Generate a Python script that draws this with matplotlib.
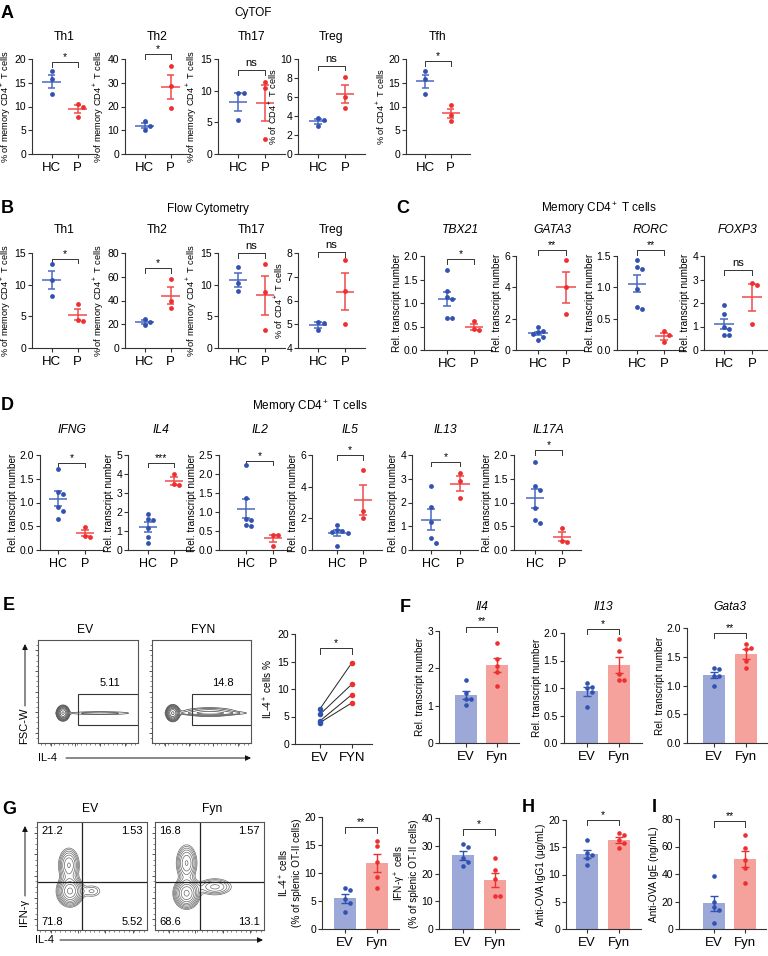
import numpy as np
import matplotlib
matplotlib.use('Agg')
import matplotlib.pyplot as plt
from matplotlib.patches import Rectangle

plt.rcParams['font.family'] = ['Liberation Sans', 'DejaVu Sans']
plt.rcParams['mathtext.fontset'] = 'custom'
plt.rcParams['mathtext.rm'] = 'Liberation Sans'
plt.rcParams['mathtext.it'] = 'Liberation Sans:italic'

# ---------------- DATA ----------------
hp_labels = ['HC', 'P']
ef_labels = ['EV', 'Fyn']

# A: CyTOF
a_titles = ['Th1', 'Th2', 'Th17', 'Treg', 'Tfh']
a_hc = [[17.4, 15.7, 12.6], [13.7, 11.8, 10.1], [9.7, 9.6, 5.3], [3.8, 3.6, 2.9], [17.4, 15.8, 12.6]]
a_p = [[10.6, 10.0, 7.8], [37.0, 28.5, 19.3], [11.3, 10.4, 2.4], [8.1, 6.0, 4.8], [10.4, 8.3, 6.9]]
a_sig = ['*', '*', 'ns', 'ns', '*']
a_yticks = [[0, 5, 10, 15, 20], [0, 10, 20, 30, 40], [0, 5, 10, 15], [0, 2, 4, 6, 8, 10], [0, 5, 10, 15, 20]]
a_ylab = ['% of memory CD4$^+$ T cells'] * 3 + ['% of CD4$^+$ T cells'] * 2

# B: Flow cytometry
b_titles = ['Th1', 'Th2', 'Th17', 'Treg']
b_hc = [[13.2, 10.8, 8.2], [24.5, 21.5, 19.0], [12.8, 10.3, 9.0], [5.08, 5.07, 4.75]]
b_p = [[7.0, 4.4, 4.3], [58.0, 40.0, 34.0], [13.3, 8.9, 2.8], [7.69, 6.4, 5.02]]
b_sig = ['*', '*', 'ns', 'ns']
b_yticks = [[0, 5, 10, 15], [0, 20, 40, 60, 80], [0, 5, 10, 15], [4, 5, 6, 7, 8]]
b_ylab = ['% of memory CD4$^+$ T cells'] * 3 + ['% of CD4$^+$ T cells']

# C: memory CD4 transcripts
c_titles = ['TBX21', 'GATA3', 'RORC', 'FOXP3']
c_hc = [[1.70, 1.25, 1.12, 1.08, 0.68, 0.68], [1.50, 1.20, 1.15, 1.00, 0.85, 0.65],
        [1.43, 1.32, 1.29, 0.97, 0.68, 0.66], [1.93, 1.55, 1.00, 0.90, 0.65, 0.62]]
c_p = [[0.62, 0.44, 0.43], [5.72, 4.03, 2.29], [0.30, 0.24, 0.12], [2.85, 2.78, 1.10]]
c_sig = ['*', '**', '**', 'ns']
c_yticks = [[0, 0.5, 1.0, 1.5, 2.0], [0, 2, 4, 6], [0, 0.5, 1.0, 1.5], [0, 1, 2, 3, 4]]
c_tickfmt = ['{:.1f}', '{:d}', '{:.1f}', '{:d}']

# D: cytokine transcripts
d_titles = ['IFNG', 'IL4', 'IL2', 'IL5', 'IL13', 'IL17A']
d_hc = [[1.70, 1.22, 1.18, 0.90, 0.82, 0.66], [1.88, 1.61, 1.57, 1.16, 0.68, 0.36],
        [2.25, 1.37, 0.82, 0.80, 0.65, 0.64], [1.60, 1.28, 1.20, 1.14, 1.08, 0.25],
        [2.68, 1.79, 1.16, 0.49, 0.29], [1.85, 1.35, 1.27, 0.89, 0.63, 0.57]]
d_p = [[0.48, 0.30, 0.27], [4.02, 3.45, 3.43], [0.40, 0.40, 0.11], [5.07, 2.44, 2.00],
       [3.26, 2.92, 2.19], [0.47, 0.19, 0.17]]
d_sig = ['*', '***', '*', '*', '*', '*']
d_yticks = [[0, 0.5, 1.0, 1.5, 2.0], [0, 1, 2, 3, 4, 5], [0, 0.5, 1.0, 1.5, 2.0, 2.5],
            [0, 2, 4, 6], [0, 1, 2, 3, 4], [0, 0.5, 1.0, 1.5, 2.0]]
d_tickfmt = ['{:.1f}', '{:d}', '{:.1f}', '{:d}', '{:d}', '{:.1f}']

# E: paired IL-4+ %
e_labels = ['EV', 'FYN']
e_ev = [6.4, 5.4, 4.2, 3.9]
e_fyn = [14.8, 10.9, 9.0, 7.5]
e_gates = ['5.11', '14.8']

# F: transcripts EV vs Fyn
f_titles = ['Il4', 'Il13', 'Gata3']
f_ev = [[1.69, 1.35, 1.18, 1.17, 1.03], [1.10, 1.02, 1.00, 0.92, 0.65], [1.30, 1.29, 1.16, 1.16, 1.00]]
f_fyn = [[2.68, 2.25, 2.05, 1.90, 1.53], [1.89, 1.67, 1.25, 1.15, 1.14], [1.73, 1.65, 1.63, 1.42, 1.31]]
f_sig = ['**', '*', '**']
f_yticks = [[0, 1, 2, 3], [0, 0.5, 1.0, 1.5, 2.0], [0, 0.5, 1.0, 1.5, 2.0]]
f_tickfmt = ['{:d}', '{:.1f}', '{:.1f}']

# G: flow quadrants and bars
g_quad_ev = ['21.2', '1.53', '71.8', '5.52']
g_quad_fyn = ['16.8', '1.57', '68.6', '13.1']
g_il4_ev = [7.4, 7.0, 5.3, 4.6, 3.1]
g_il4_fyn = [15.7, 14.8, 11.9, 9.3, 7.3]
g_ifng_ev = [30.8, 29.5, 25.5, 24.0, 22.8]
g_ifng_fyn = [25.6, 21.1, 18.0, 11.8, 11.8]
# H, I: serum antibodies
h_ev = [16.3, 14.0, 13.6, 13.0, 11.8]
h_fyn = [17.7, 17.3, 16.3, 15.8, 14.8]
i_ev = [38.9, 20.0, 16.0, 14.0, 4.3]
i_fyn = [68.4, 58.7, 50.2, 44.2, 33.8]

# flow density components (amp, x, y, sx, sy) in plot-fraction units
e_dens_ev = [(1.0, 0.25, 0.29, 0.026, 0.03), (0.07, 0.62, 0.29, 0.22, 0.011)]
e_dens_fyn = [(1.0, 0.21, 0.29, 0.028, 0.032), (0.12, 0.58, 0.30, 0.16, 0.026), (0.06, 0.62, 0.29, 0.24, 0.01)]
g_dens_ev = [(1.0, 0.30, 0.36, 0.055, 0.065), (0.5, 0.29, 0.60, 0.048, 0.08), (0.14, 0.50, 0.36, 0.06, 0.04)]
g_dens_fyn = [(1.0, 0.29, 0.34, 0.055, 0.065), (0.5, 0.29, 0.62, 0.048, 0.085), (0.28, 0.55, 0.40, 0.09, 0.045)]

# ---------------- STYLE ----------------
BLUE, RED = '#3152b0', '#ee2f2f'
BLUE_L, RED_L = '#4a68c0', '#f04a4a'
BLUE_BAR, RED_BAR = '#9ca8d8', '#f5a19c'
AX_C = '#333333'

W, H = 768, 956
fig = plt.figure(figsize=(W / 100, H / 100), dpi=100)


def add_ax(l, t, r, b):
    return fig.add_axes([l / W, 1 - b / H, (r - l) / W, (b - t) / H])


def swarm(vals, ppu_y, dot=4.8):
    vals = np.asarray(vals, float)
    order = np.argsort(-vals)
    placed = []
    offs = np.zeros(len(vals))
    for i in order:
        y = vals[i] * ppu_y
        for c in [0, 1, -1, 2, -2, 3, -3]:
            x = c * (dot + 0.6)
            if all((x - px) ** 2 + (y - py) ** 2 >= dot ** 2 for px, py in placed):
                break
        placed.append((x, y))
        offs[i] = x
    return offs


def base_style(ax, ymin, ymax, yticks, fmt, xlabels, ylabel, xsize=9.5, ysize=7.5, lsize=6.9, lpad=1.5):
    for s in ['top', 'right']:
        ax.spines[s].set_visible(False)
    for s in ['left', 'bottom']:
        ax.spines[s].set_color(AX_C)
        ax.spines[s].set_linewidth(0.8)
    ax.set_ylim(ymin, ymax)
    ax.set_yticks(yticks)
    ax.set_yticklabels([fmt.format(int(v) if fmt == '{:d}' else v) for v in yticks], fontsize=ysize)
    ax.set_xticks([0, 1])
    ax.set_xticklabels(xlabels, fontsize=xsize)
    ax.tick_params(axis='both', length=3, width=0.8, color=AX_C, pad=1.2)
    ax.tick_params(axis='x', pad=2.5)
    ax.set_ylabel(ylabel, fontsize=lsize, labelpad=lpad)
    ax.patch.set_alpha(0)


def bracket(ax, frac, text, drop=0.05):
    tr = ax.get_xaxis_transform()
    ax.plot([0, 0, 1, 1], [frac - drop, frac, frac, frac - drop], transform=tr,
            color=AX_C, lw=0.7, clip_on=False)
    ax.text(0.5, frac + (0.02 if text == 'ns' else 0.0), text, transform=tr, ha='center',
            va='bottom', fontsize=8 if text == 'ns' else 7.5, clip_on=False)


def scatter_panel(rect, hx, px, hc, pp, yticks, fmt, ylabel, sig, bfrac, ymin=0,
                  xsize=9.5, lsize=6.9, lpad=1.5):
    l, t, r, b = rect
    ax = add_ax(l, t, r, b)
    sp = px - hx
    ax.set_xlim((l - hx) / sp, (r - hx) / sp)
    ymax = yticks[-1]
    ppu = (b - t) / (ymax - ymin)
    for k, (vals, dc, lc) in enumerate([(hc, BLUE, BLUE_L), (pp, RED, RED_L)]):
        v = np.asarray(vals, float)
        m = v.mean()
        se = v.std(ddof=1) / np.sqrt(len(v))
        offs = swarm(v, ppu) / sp
        ax.hlines(m, k - 0.35, k + 0.35, color=lc, lw=1.1, zorder=2)
        ax.vlines(k, m - se, m + se, color=lc, lw=1.1, zorder=2)
        ax.hlines([m - se, m + se], k - 0.14, k + 0.14, color=lc, lw=1.1, zorder=2)
        ax.scatter(k + offs, v, s=12, color=dc, zorder=3, linewidths=0, clip_on=False)
    base_style(ax, ymin, ymax, yticks, fmt, hp_labels, ylabel, xsize=xsize, lsize=lsize, lpad=lpad)
    bracket(ax, bfrac, sig)
    return ax


def bar_panel(rect, ex, fx, ev, fy, yticks, fmt, ylabel, sig, bfrac, lsize=7):
    l, t, r, b = rect
    ax = add_ax(l, t, r, b)
    sp = fx - ex
    ax.set_xlim((l - ex) / sp, (r - ex) / sp)
    ymax = yticks[-1]
    ppu = (b - t) / ymax
    for k, (vals, dc, bc) in enumerate([(ev, BLUE, BLUE_BAR), (fy, RED, RED_BAR)]):
        v = np.asarray(vals, float)
        m = v.mean()
        se = v.std(ddof=1) / np.sqrt(len(v))
        ax.bar(k, m, width=0.7, color=bc, zorder=1)
        ax.vlines(k, m - se, m + se, color=dc, lw=1.0, zorder=2)
        ax.hlines([m - se, m + se], k - 0.13, k + 0.13, color=dc, lw=1.0, zorder=2)
        offs = swarm(v, ppu) / sp
        ax.scatter(k + offs, v, s=11, color=dc, zorder=3, linewidths=0, clip_on=False)
    base_style(ax, 0, ymax, yticks, fmt, ef_labels, ylabel, xsize=9.5, lsize=lsize)
    bracket(ax, bfrac, sig)
    return ax


gx = np.linspace(0, 1, 300)
GX, GY = np.meshgrid(gx, gx)


def flow_panel(rect, comps, lo, nlev, color):
    ax = add_ax(*rect)
    Z = np.zeros_like(GX)
    for a, mx, my, sx, sy in comps:
        Z += a * np.exp(-0.5 * (((GX - mx) / sx) ** 2 + ((GY - my) / sy) ** 2))
    ax.contour(GX, GY, Z, levels=np.geomspace(lo, 0.92, nlev), colors=color, linewidths=0.5)
    ax.set_xlim(0, 1)
    ax.set_ylim(0, 1)
    for s in ax.spines.values():
        s.set_color('#555555')
        s.set_linewidth(0.8)
    ax.set_xticks([0.13, 0.37, 0.62, 0.87])
    ax.set_xticks(np.linspace(0.03, 0.97, 22), minor=True)
    ax.set_yticks([0.1, 0.3, 0.5, 0.7, 0.9])
    ax.set_yticks(np.linspace(0.05, 0.95, 19), minor=True)
    ax.tick_params(which='major', length=2.5, width=0.7, color='#555555', labelleft=False, labelbottom=False)
    ax.tick_params(which='minor', length=1.3, width=0.5, color='#555555')
    return ax


# ---------------- PANEL A ----------------
a_rects = [(32, 59, 97), (125, 59, 190), (218, 59, 285), (298, 59, 365), (406, 59, 470)]
a_bfrac = [0.97, 1.05, 0.88, 0.93, 0.98]
titles = []
for i in range(5):
    l, t, r = a_rects[i]
    hx = l + (r - l) * 0.3
    px = l + (r - l) * 0.7
    scatter_panel((l, t, r, 154), hx, px, a_hc[i], a_p[i], a_yticks[i], '{:d}', a_ylab[i],
                  a_sig[i], a_bfrac[i], lsize=6.7, lpad=0.8)
    titles.append(((hx + px) / 2, 37, a_titles[i], 'normal'))

# ---------------- PANEL B ----------------
b_rects = [(32, 253, 97), (125, 253, 190), (218, 253, 285), (298, 253, 365)]
b_bfrac = [0.94, 0.84, 1.0, 1.01]
for i in range(4):
    l, t, r = b_rects[i]
    hx = l + (r - l) * 0.3
    px = l + (r - l) * 0.7
    ymin = b_yticks[i][0]
    scatter_panel((l, t, r, 348), hx, px, b_hc[i], b_p[i], b_yticks[i], '{:d}', b_ylab[i],
                  b_sig[i], b_bfrac[i], ymin=ymin, lsize=6.7, lpad=0.8)
    titles.append(((hx + px) / 2, 230, b_titles[i], 'normal'))

# ---------------- PANEL C ----------------
c_rects = [(424, 447, 474, 492), (516, 538, 566, 584), (617, 637, 664, 685), (704, 724, 752, 767)]
c_bfrac = [0.97, 1.06, 1.06, 0.85]
for i in range(4):
    l, hx, px, r = c_rects[i]
    scatter_panel((l, 256, r, 350), hx, px, c_hc[i], c_p[i], c_yticks[i], c_tickfmt[i],
                  'Rel. transcript number', c_sig[i], c_bfrac[i], lsize=7.2)
    titles.append(((hx + px) / 2, 230, c_titles[i], 'italic'))

# ---------------- PANEL D ----------------
d_rects = [(40, 58, 85, 104), (128, 148, 174, 194), (219, 246, 273, 290),
           (312, 337, 363, 382), (412, 431, 460, 478), (514, 535, 562, 581)]
d_bfrac = [0.92, 0.92, 0.94, 1.0, 0.93, 1.05]
for i in range(6):
    l, hx, px, r = d_rects[i]
    scatter_panel((l, 455, r, 550), hx, px, d_hc[i], d_p[i], d_yticks[i], d_tickfmt[i],
                  'Rel. transcript number', d_sig[i], d_bfrac[i], xsize=9, lsize=7.2)
    titles.append(((hx + px) / 2, 430, d_titles[i], 'italic'))

# ---------------- PANEL E ----------------
ev_ax = flow_panel((38, 640, 138, 743), e_dens_ev, 0.03, 8, '#444444')
fyn_ax = flow_panel((152, 640, 251, 743), e_dens_fyn, 0.03, 8, '#444444')
for ax, lab in zip([ev_ax, fyn_ax], e_gates):
    ax.add_patch(Rectangle((0.40, 0.17), 0.595, 0.31, fill=False, ec='#333333', lw=0.8))
    ax.text(0.72, 0.53, lab, ha='center', va='bottom', fontsize=8)

ax = add_ax(295, 634, 372, 744)
ex, fx = 320, 352
sp = fx - ex
ax.set_xlim((295 - ex) / sp, (372 - ex) / sp)
for a_, b_ in zip(e_ev, e_fyn):
    ax.plot([0, 1], [a_, b_], color='#222222', lw=0.7, zorder=1)
ax.scatter(np.zeros(len(e_ev)), e_ev, s=16, color=BLUE, zorder=3, linewidths=0)
ax.scatter(np.ones(len(e_fyn)), e_fyn, s=16, color=RED, zorder=3, linewidths=0)
base_style(ax, 0, 20, [0, 5, 10, 15, 20], '{:d}', e_labels, 'IL-4$^+$ cells %', xsize=9.5, lsize=7.2)
bracket(ax, 0.87, '*')

# ---------------- PANEL F ----------------
f_rects = [(439, 466, 497, 519, 631), (564, 587, 619, 642, 633), (687, 714, 746, 767, 628)]
f_bfrac = [1.04, 1.04, 0.96]
for i in range(3):
    l, ex, fx, r, t = f_rects[i]
    bar_panel((l, t, r, 743), ex, fx, f_ev[i], f_fyn[i], f_yticks[i], f_tickfmt[i],
              'Rel. transcript number', f_sig[i], f_bfrac[i], lsize=7.2)
    titles.append(((ex + fx) / 2, 607, f_titles[i], 'italic'))

# ---------------- PANEL G ----------------
for rect, comps, q in [((37, 822, 147, 930), g_dens_ev, g_quad_ev),
                       ((155, 822, 264, 930), g_dens_fyn, g_quad_fyn)]:
    ax = flow_panel(rect, comps, 0.07, 9, '#6a6a6a')
    ax.axvline(0.41, color='#222222', lw=0.9)
    ax.axhline(0.445, color='#222222', lw=0.9)
    ax.text(0.04, 0.96, q[0], ha='left', va='top', fontsize=8)
    ax.text(0.96, 0.96, q[1], ha='right', va='top', fontsize=8)
    ax.text(0.04, 0.03, q[2], ha='left', va='bottom', fontsize=8)
    ax.text(0.96, 0.03, q[3], ha='right', va='bottom', fontsize=8)

bar_panel((322, 817, 399, 929), 345, 377, g_il4_ev, g_il4_fyn, [0, 5, 10, 15, 20], '{:d}',
          'IL-4$^+$ cells\n(% of splenic OT-II cells)', '**', 0.91, lsize=7.2)
bar_panel((439, 818, 519, 929), 463, 495, g_ifng_ev, g_ifng_fyn, [0, 10, 20, 30, 40], '{:d}',
          'IFN-γ$^+$ cells\n(% of splenic OT-II cells)', '*', 0.90, lsize=7.2)
bar_panel((566, 820, 641, 929), 587, 619, h_ev, h_fyn, [0, 5, 10, 15, 20], '{:d}',
          'Anti-OVA IgG1 (μg/mL)', '*', 1.0, lsize=7.2)
bar_panel((679, 819, 766, 929), 714, 745, i_ev, i_fyn, [0, 20, 40, 60, 80], '{:d}',
          'Anti-OVA IgE (ng/mL)', '**', 0.98, lsize=7.2)

# ---------------- OVERLAY TEXT ----------------
ov = fig.add_axes([0, 0, 1, 1])
ov.set_xlim(0, W)
ov.set_ylim(H, 0)
ov.axis('off')

for x, y, s in [(1, 13, 'A'), (1, 208, 'B'), (396, 208, 'C'), (1, 405, 'D'), (3, 605, 'E'),
                (400, 607, 'F'), (2, 809, 'G'), (522, 808, 'H'), (652, 808, 'I')]:
    ov.text(x, y, s, fontsize=13, fontweight='bold', ha='left', va='center')

ov.text(253, 13, 'CyTOF', fontsize=8.5, ha='center', va='center')
ov.text(208, 209, 'Flow Cytometry', fontsize=8.5, ha='center', va='center')
ov.text(599, 209, 'Memory CD4$^+$ T cells', fontsize=8.5, ha='center', va='center')
ov.text(310, 407, 'Memory CD4$^+$ T cells', fontsize=8.5, ha='center', va='center')

for x, y, s, st in titles:
    ov.text(x, y, s, fontsize=8.7, ha='center', va='center', style=st)

ov.text(85, 630, 'EV', fontsize=8.7, ha='center', va='center')
ov.text(203, 630, 'FYN', fontsize=8.7, ha='center', va='center')
ov.text(90, 809, 'EV', fontsize=8.7, ha='center', va='center')
ov.text(212, 809, 'Fyn', fontsize=8.7, ha='center', va='center')

arrow = dict(arrowstyle='-|>', lw=0.7, color='#111111', mutation_scale=8, shrinkA=0, shrinkB=0)
# E axes labels
ov.text(24, 726, 'FSC-W', rotation=90, fontsize=8, ha='center', va='center')
ov.annotate('', xy=(25, 644), xytext=(25, 706), arrowprops=arrow)
ov.text(38, 758, 'IL-4', fontsize=8, ha='left', va='center')
ov.annotate('', xy=(251, 758), xytext=(66, 758), arrowprops=arrow)
# G axes labels
ov.text(24, 912, 'IFN-γ', rotation=90, fontsize=8, ha='center', va='center')
ov.annotate('', xy=(25, 826), xytext=(25, 896), arrowprops=arrow)
ov.text(35, 940, 'IL-4', fontsize=8, ha='left', va='center')
ov.annotate('', xy=(263, 940), xytext=(60, 940), arrowprops=arrow)

fig.savefig('out.png', dpi=100)
